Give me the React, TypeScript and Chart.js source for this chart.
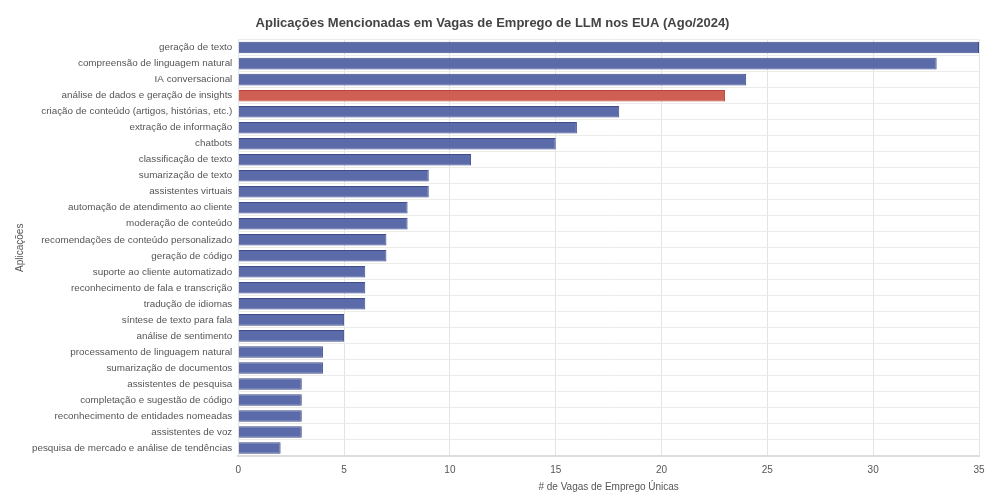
import { useEffect, useRef } from "react"
import { Chart, registerables } from "chart.js"

Chart.register(...registerables)

const categories = [
  "geração de texto",
  "compreensão de linguagem natural",
  "IA conversacional",
  "análise de dados e geração de insights",
  "criação de conteúdo (artigos, histórias, etc.)",
  "extração de informação",
  "chatbots",
  "classificação de texto",
  "sumarização de texto",
  "assistentes virtuais",
  "automação de atendimento ao cliente",
  "moderação de conteúdo",
  "recomendações de conteúdo personalizado",
  "geração de código",
  "suporte ao cliente automatizado",
  "reconhecimento de fala e transcrição",
  "tradução de idiomas",
  "síntese de texto para fala",
  "análise de sentimento",
  "processamento de linguagem natural",
  "sumarização de documentos",
  "assistentes de pesquisa",
  "completação e sugestão de código",
  "reconhecimento de entidades nomeadas",
  "assistentes de voz",
  "pesquisa de mercado e análise de tendências",
]

const counts = [35, 33, 24, 23, 18, 16, 15, 11, 9, 9, 8, 8, 7, 7, 6, 6, 6, 5, 5, 4, 4, 3, 3, 3, 3, 2]

const highlighted = "análise de dados e geração de insights"

const xTicks = [0, 5, 10, 15, 20, 25, 30, 35]

const FONT = "'Liberation Sans', Arial, Helvetica, sans-serif"

export default function App() {
  const canvasRef = useRef<HTMLCanvasElement>(null)
  const chartRef = useRef<Chart | null>(null)

  useEffect(() => {
    if (!canvasRef.current) return
    if (chartRef.current) chartRef.current.destroy()

    // a barra destacada fica em vermelho, as outras em azul
    const fills = categories.map((c) => (c === highlighted ? "#cf5f52" : "#5b6aa9"))
    const borders = categories.map((c) => (c === highlighted ? "#b8463a" : "#3f4d8c"))

    chartRef.current = new Chart(canvasRef.current, {
      type: "bar",
      data: {
        labels: categories,
        datasets: [
          {
            label: "# de Vagas de Emprego Únicas",
            data: counts,
            backgroundColor: fills,
            borderColor: borders,
            borderWidth: 1,
            barPercentage: 0.72,
            categoryPercentage: 1,
          },
        ],
      },
      options: {
        indexAxis: "y",
        animation: false,
        responsive: true,
        maintainAspectRatio: false,
        layout: { padding: { top: 10, right: 21, left: 6, bottom: 9 } },
        plugins: {
          legend: { display: false },
          tooltip: { enabled: false },
          title: {
            display: true,
            text: "Aplicações Mencionadas em Vagas de Emprego de LLM nos EUA (Ago/2024)",
            color: "#444444",
            font: { family: FONT, size: 13, weight: "bold" },
            padding: { top: 6, bottom: 8 },
          },
        },
        scales: {
          x: {
            min: 0,
            max: 35,
            afterBuildTicks: (axis) => {
              axis.ticks = xTicks.map((v) => ({ value: v }))
            },
            grid: { color: "#e4e4e4", drawTicks: false },
            border: { display: true, color: "#dddddd", width: 2 },
            ticks: {
              color: "#555555",
              padding: 8,
              font: { family: FONT, size: 10 },
            },
            title: {
              display: true,
              text: "# de Vagas de Emprego Únicas",
              color: "#555555",
              font: { family: FONT, size: 10 },
              padding: { top: -3, bottom: 2 },
            },
          },
          y: {
            grid: { color: "#ebebeb", drawTicks: false, offset: true },
            border: { display: false },
            ticks: {
              color: "#555555",
              padding: 6,
              autoSkip: false,
              font: { family: FONT, size: 9.85 },
            },
            title: {
              display: true,
              text: "Aplicações",
              color: "#555555",
              font: { family: FONT, size: 10 },
              padding: { top: 8, bottom: 0 },
            },
          },
        },
      },
    })

    return () => {
      if (chartRef.current) {
        chartRef.current.destroy()
        chartRef.current = null
      }
    }
  }, [])

  return (
    <div style={{ position: "absolute", left: 0, top: 0, width: "1000px", height: "504px", background: "#ffffff" }}>
      <canvas ref={canvasRef} />
    </div>
  )
}
